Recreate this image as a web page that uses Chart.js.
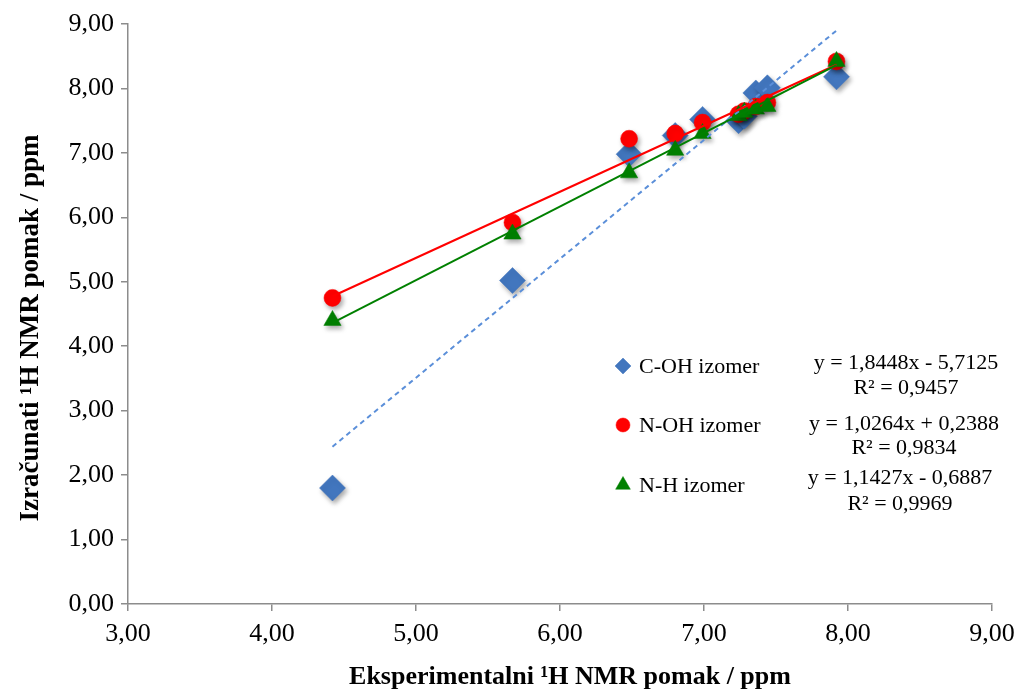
<!DOCTYPE html>
<html>
<head>
<meta charset="utf-8">
<script src="https://cdn.jsdelivr.net/npm/chart.js@4.4.0/dist/chart.umd.min.js"></script>
<style>
  html, body { margin: 0; padding: 0; background: #ffffff; }
  #wrap { width: 1018px; height: 692px; position: relative; }
</style>
</head>
<body>
<div id="wrap"><canvas id="c" width="1018" height="692"></canvas></div>
<script>
// ---- data ----
const experimental = [4.42, 5.67, 6.48, 6.80, 6.99, 7.24, 7.28, 7.36, 7.44, 7.92];
const cohValues    = [1.80, 5.02, 6.98, 7.27, 7.52, 7.50, 7.57, 7.93, 8.01, 8.18];
const nohValues    = [4.75, 5.92, 7.22, 7.30, 7.47, 7.60, 7.65, 7.72, 7.78, 8.42];
const nhValues     = [4.40, 5.74, 6.69, 7.04, 7.30, 7.58, 7.63, 7.68, 7.72, 8.42];
const seriesNames  = ['C-OH izomer', 'N-OH izomer', 'N-H izomer'];
const trendSlopes     = [1.8448, 1.0264, 1.1427];
const trendIntercepts = [-5.7125, 0.2388, -0.6887];
const equationLabels  = ['y = 1,8448x - 5,7125', 'y = 1,0264x + 0,2388', 'y = 1,1427x - 0,6887'];
const rSquaredLabels  = ['R² = 0,9457', 'R² = 0,9834', 'R² = 0,9969'];
const xTitle = 'Eksperimentalni ¹H NMR pomak / ppm';
const yTitle = 'Izračunati ¹H NMR pomak / ppm';

const FONT = "'Liberation Serif', 'Times New Roman', serif";
const colors = ['#4276be', '#ff0000', '#008000'];
const trendColors = ['#5b8fd9', '#ff0000', '#008000'];
const styles = ['rectRot', 'circle', 'triangle'];
const radii = [13, 8.5, 10];
const legendRadii = [8, 7, 8.5];
const valueSets = [cohValues, nohValues, nhValues];

const pts = vals => experimental.map((x, i) => ({x: x, y: vals[i]}));
const xMin = Math.min(...experimental), xMax = Math.max(...experimental);

const datasets = [];
valueSets.forEach((vals, i) => {
  datasets.push({
    label: seriesNames[i],
    data: pts(vals),
    pointStyle: styles[i],
    pointRadius: radii[i],
    pointHoverRadius: radii[i],
    backgroundColor: colors[i],
    borderColor: colors[i],
    borderWidth: 0.5,
    showLine: false,
    order: 10 - i,
    isMarker: true
  });
});
trendSlopes.forEach((m, i) => {
  datasets.push({
    label: 'trend ' + seriesNames[i],
    data: [{x: xMin, y: m * xMin + trendIntercepts[i]}, {x: xMax, y: m * xMax + trendIntercepts[i]}],
    showLine: true,
    pointRadius: 0,
    borderColor: trendColors[i],
    borderWidth: 2,
    borderDash: i === 0 ? [5, 4] : [],
    fill: false,
    order: 3 - i
  });
});

const shadowPlugin = {
  id: 'shadow',
  beforeDatasetDraw(chart, args) {
    const ds = chart.data.datasets[args.index];
    if (ds.isMarker) {
      const ctx = chart.ctx;
      ctx.save();
      ctx.shadowColor = 'rgba(0,0,0,0.35)';
      ctx.shadowBlur = 5;
      ctx.shadowOffsetX = 2;
      ctx.shadowOffsetY = 3;
    }
  },
  afterDatasetDraw(chart, args) {
    const ds = chart.data.datasets[args.index];
    if (ds.isMarker) chart.ctx.restore();
  }
};

const legendPlugin = {
  id: 'customLegend',
  afterDraw(chart) {
    const ctx = chart.ctx;
    const rows = [366, 425, 485];
    const eqY = [[362, 387], [423, 447], [477, 503]];
    const eqX = [906, 904, 900];
    ctx.save();
    ctx.font = '22px ' + FONT;
    ctx.textBaseline = 'middle';
    for (let i = 0; i < 3; i++) {
      ctx.fillStyle = colors[i];
      ctx.strokeStyle = colors[i];
      ctx.lineWidth = 0.5;
      Chart.helpers.drawPoint(ctx, {pointStyle: styles[i], radius: legendRadii[i], borderWidth: 0.5}, 623, rows[i]);
      ctx.fillStyle = '#000000';
      ctx.textAlign = 'left';
      ctx.fillText(seriesNames[i], 639, rows[i] + 1);
      ctx.textAlign = 'center';
      ctx.fillText(equationLabels[i], eqX[i], eqY[i][0] + 1);
      ctx.fillText(rSquaredLabels[i], eqX[i], eqY[i][1] + 1);
    }
    // axis titles
    ctx.fillStyle = '#000000';
    ctx.font = 'bold 26px ' + FONT;
    ctx.textAlign = 'center';
    ctx.fillText(xTitle, 570, 677);
    ctx.translate(30, 328);
    ctx.rotate(-Math.PI / 2);
    ctx.font = 'bold 27px ' + FONT;
    ctx.fillText(yTitle, 0, 1);
    ctx.restore();
  }
};

const fmt = v => Number(v).toFixed(2).replace('.', ',');

new Chart(document.getElementById('c'), {
  type: 'scatter',
  data: { datasets: datasets },
  options: {
    responsive: false,
    animation: false,
    events: [],
    layout: { padding: { left: 0, right: 26, top: 24, bottom: 0 } },
    plugins: { legend: { display: false }, tooltip: { enabled: false } },
    scales: {
      x: {
        type: 'linear',
        min: 3, max: 9,
        afterFit(s) { s.height = 88; s.paddingLeft = 0; s.paddingRight = 0; },
        ticks: { stepSize: 1, callback: fmt, color: '#000000', padding: 8, font: { family: FONT, size: 26 }, maxRotation: 0 },
        grid: { drawOnChartArea: false, drawTicks: true, tickLength: 7, color: '#8c8c8c', lineWidth: 1.5 },
        border: { color: '#8c8c8c', width: 1.5 },
        title: { display: false }
      },
      y: {
        type: 'linear',
        min: 0, max: 9,
        afterFit(s) { s.width = 128; s.paddingTop = 0; s.paddingBottom = 0; },
        ticks: { stepSize: 1, callback: fmt, color: '#000000', padding: 7, font: { family: FONT, size: 26 } },
        grid: { drawOnChartArea: false, drawTicks: true, tickLength: 7, color: '#8c8c8c', lineWidth: 1.5 },
        border: { color: '#8c8c8c', width: 1.5 },
        title: { display: false }
      }
    }
  },
  plugins: [shadowPlugin, legendPlugin]
});
</script>
</body>
</html>
